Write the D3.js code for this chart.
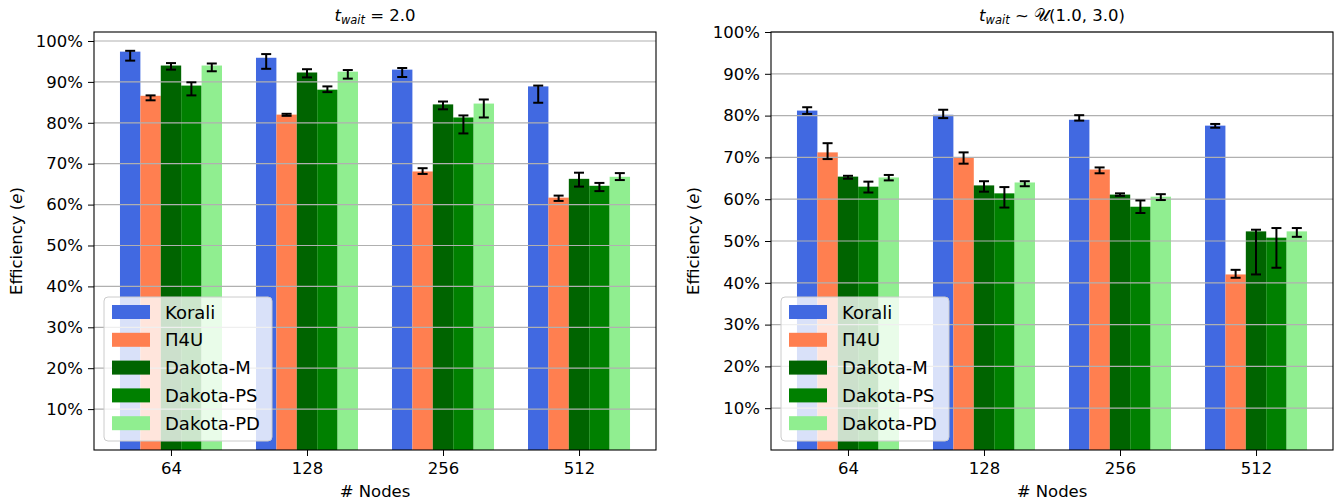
<!DOCTYPE html>
<html>
<head>
<meta charset="utf-8">
<script src="https://cdn.jsdelivr.net/npm/d3@7"></script>
<style>
  body { margin: 0; background: #fff; }
  svg text { font-family: "DejaVu Sans", sans-serif; fill: #000; }
</style>
</head>
<body>
<svg id="chart" width="1341" height="502"></svg>
<script>
// categories and series
const groups = ['64', '128', '256', '512'];
const series = ['Korali', 'Π4U', 'Dakota-M', 'Dakota-PS', 'Dakota-PD'];
const colors = ['#4169e1', '#ff7f50', '#006400', '#008000', '#90ee90'];
const yTicks = [10, 20, 30, 40, 50, 60, 70, 80, 90, 100];

// t_wait = 2.0  (rows = series, cols = groups), efficiency in %
const fixedValues = [
  [97.4, 95.9, 93.0, 88.9],
  [86.6, 82.0, 68.1, 61.7],
  [94.0, 92.3, 84.5, 66.3],
  [89.1, 88.1, 81.3, 64.6],
  [94.0, 92.5, 84.7, 66.8]
];
const fixedErrLow = [
  [95.2, 93.2, 91.2, 84.9],
  [85.5, 81.7, 67.5, 60.9],
  [93.0, 91.1, 83.3, 64.4],
  [86.7, 87.5, 77.4, 63.3],
  [92.6, 90.8, 81.3, 66.0]
];
const fixedErrHigh = [
  [97.6, 96.8, 93.4, 89.1],
  [86.7, 82.2, 68.9, 62.2],
  [94.6, 93.1, 85.2, 67.8],
  [89.9, 88.9, 81.8, 65.3],
  [94.5, 92.9, 85.7, 67.7]
];

// t_wait ~ U(1.0, 3.0)
const uniformValues = [
  [81.2, 80.2, 79.0, 77.6],
  [71.2, 70.0, 67.1, 42.0],
  [65.4, 63.3, 61.1, 52.3],
  [63.0, 61.4, 58.2, 50.8],
  [65.2, 64.0, 60.6, 52.3]
];
const uniformErrLow = [
  [80.4, 79.4, 78.8, 77.1],
  [69.6, 68.5, 66.2, 41.2],
  [64.9, 61.8, 60.8, 42.0],
  [61.6, 58.0, 56.7, 43.6],
  [64.5, 63.1, 59.8, 51.0]
];
const uniformErrHigh = [
  [82.0, 81.4, 80.1, 78.0],
  [73.4, 71.2, 67.6, 43.1],
  [65.6, 64.3, 61.4, 52.7],
  [64.2, 62.9, 59.7, 53.1],
  [65.8, 64.3, 61.2, 53.1]
];

const svg = d3.select('#chart');

function drawPanel(opt) {
  const left = opt.left, right = opt.right, top = 32, bottom = 450;
  const g = svg.append('g');

  const x = d3.scalePoint().domain(groups).range([left, right]).padding(0.566);
  const step = x.step();
  const inner = d3.scaleBand().domain(series).range([-0.375 * step, 0.375 * step]);
  const y = d3.scaleLinear().domain([0, opt.yMax]).range([bottom, top]);

  // bars
  series.forEach((s, si) => {
    g.append('g').selectAll('rect')
      .data(opt.values[si])
      .enter().append('rect')
      .attr('x', (d, gi) => x(groups[gi]) + inner(s))
      .attr('y', d => y(d))
      .attr('width', inner.bandwidth())
      .attr('height', d => y(0) - y(d))
      .attr('fill', colors[si]);
  });

  // grid (drawn above bars)
  g.append('g').selectAll('line')
    .data(yTicks)
    .enter().append('line')
    .attr('x1', left).attr('x2', right)
    .attr('y1', d => y(d)).attr('y2', d => y(d))
    .attr('stroke', '#b0b0b0').attr('stroke-width', 1.2);

  // error bars
  series.forEach((s, si) => {
    const eb = g.append('g').attr('stroke', '#000').attr('stroke-width', 2);
    opt.values[si].forEach((v, gi) => {
      const cx = x(groups[gi]) + inner(s) + inner.bandwidth() / 2;
      const lo = y(opt.errLow[si][gi]), hi = y(opt.errHigh[si][gi]);
      eb.append('line').attr('x1', cx).attr('x2', cx).attr('y1', lo).attr('y2', hi);
      eb.append('line').attr('x1', cx - 5).attr('x2', cx + 5).attr('y1', lo).attr('y2', lo);
      eb.append('line').attr('x1', cx - 5).attr('x2', cx + 5).attr('y1', hi).attr('y2', hi);
    });
  });

  // axes
  const yAxis = d3.axisLeft(y).tickValues(yTicks).tickFormat(d => d + '%').tickSize(6).tickPadding(5).tickSizeOuter(0);
  const ya = g.append('g').attr('transform', `translate(${left},0)`).call(yAxis);
  const xAxis = d3.axisBottom(x).tickSize(6).tickPadding(6).tickSizeOuter(0);
  const xa = g.append('g').attr('transform', `translate(0,${bottom})`).call(xAxis);
  [ya, xa].forEach(a => {
    a.select('.domain').remove();
    a.selectAll('text').style('font-size', '16.5px').style('font-family', '"DejaVu Sans", sans-serif');
    a.selectAll('line').attr('stroke', '#000').attr('stroke-width', 1);
  });

  // frame
  g.append('rect')
    .attr('x', left).attr('y', top).attr('width', right - left).attr('height', bottom - top)
    .attr('fill', 'none').attr('stroke', '#000').attr('stroke-width', 1.1);

  // title
  const cxm = (left + right) / 2;
  const title = g.append('text').attr('x', cxm).attr('y', 21)
    .attr('text-anchor', 'middle').style('font-size', '16.5px');
  title.append('tspan').style('font-style', 'italic').text('t');
  title.append('tspan').style('font-style', 'italic').style('font-size', '11.5px').attr('dy', 3).text('wait');
  title.append('tspan').attr('dy', -3).text(opt.titleRest);

  // axis labels
  g.append('text').attr('x', cxm).attr('y', 497).attr('text-anchor', 'middle')
    .style('font-size', '16.5px').text('# Nodes');
  const yl = g.append('text').attr('transform', `translate(${left - 72},${(top + bottom) / 2}) rotate(-90)`)
    .attr('text-anchor', 'middle').style('font-size', '16.5px');
  yl.append('tspan').text('Efficiency (');
  yl.append('tspan').style('font-style', 'italic').text('e');
  yl.append('tspan').text(')');

  // legend
  const lx = left + 10, ly = 297;
  const lg = g.append('g');
  lg.append('rect').attr('x', lx).attr('y', ly).attr('width', 168).attr('height', 144)
    .attr('rx', 4).attr('fill', '#fff').attr('fill-opacity', 0.8)
    .attr('stroke', '#cccccc').attr('stroke-width', 1);
  series.forEach((s, si) => {
    const cy = ly + 15 + si * 27.8;
    lg.append('rect').attr('x', lx + 8).attr('y', cy - 7).attr('width', 38).attr('height', 14).attr('fill', colors[si]);
    lg.append('text').attr('x', lx + 61).attr('y', cy).attr('dominant-baseline', 'central')
      .style('font-size', '18px').text(s);
  });
}

drawPanel({ left: 94, right: 656, yMax: 102.2, values: fixedValues, errLow: fixedErrLow, errHigh: fixedErrHigh, titleRest: ' = 2.0' });
drawPanel({ left: 771, right: 1333, yMax: 100, values: uniformValues, errLow: uniformErrLow, errHigh: uniformErrHigh, titleRest: ' ~ 𝒰(1.0, 3.0)' });
</script>
</body>
</html>
